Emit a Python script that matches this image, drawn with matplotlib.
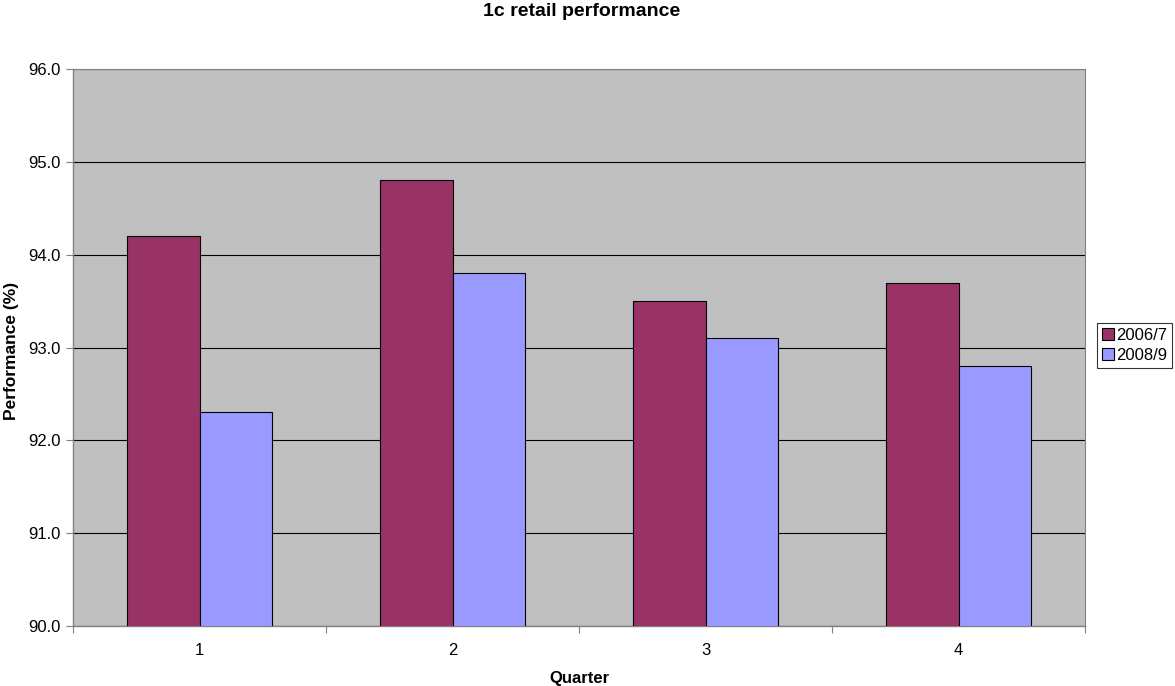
import numpy as np
import matplotlib.pyplot as plt

plt.rcParams['font.family'] = ['Liberation Sans', 'DejaVu Sans']

# Quarterly retail performance (%)
quarters = ['1', '2', '3', '4']
perf_2006_7 = [94.2, 94.8, 93.5, 93.7]
perf_2008_9 = [92.3, 93.8, 93.1, 92.8]
series_names = ['2006/7', '2008/9']

fig = plt.figure(figsize=(11.75, 6.86), dpi=100)
ax = fig.add_axes([73 / 1175, 1 - 626 / 686, (1085 - 73) / 1175, (626 - 69) / 686])
ax.set_facecolor('#C0C0C0')

x = np.arange(len(quarters))
w = 1 / 3.5
b1 = ax.bar(x - w / 2, perf_2006_7, w, color='#993366', edgecolor='black', linewidth=0.8,
            label=series_names[0], zorder=3)
b2 = ax.bar(x + w / 2, perf_2008_9, w, color='#9999FF', edgecolor='black', linewidth=0.8,
            label=series_names[1], zorder=3)

ax.set_ylim(90, 96)
ax.set_xlim(-0.5, len(quarters) - 0.5)
yt = np.arange(90, 96.1, 1)
ax.set_yticks(yt)
ax.set_yticklabels([f'{v:.1f}' for v in yt], fontsize=12)
ax.yaxis.grid(True, color='black', linewidth=0.8, zorder=1)
ax.set_axisbelow(True)

# tick marks at the category boundaries, labels at centres
ax.set_xticks(np.arange(-0.5, len(quarters)), labels=[''] * (len(quarters) + 1))
ax.set_xticks(x, labels=quarters, minor=True)
ax.tick_params(axis='x', which='minor', length=0, pad=12, labelsize=12)
ax.tick_params(axis='x', which='major', length=5, direction='out', color='#808080')
ax.tick_params(axis='y', length=5, direction='out', color='#808080', pad=4)

for side in ['top', 'right']:
    ax.spines[side].set_color('#808080')
    ax.spines[side].set_linewidth(0.8)
for side in ['left', 'bottom']:
    ax.spines[side].set_color('#808080')
    ax.spines[side].set_linewidth(1.0)

fig.text(582 / 1175, 1 - 11 / 686, '1c retail performance', ha='center', va='center',
         fontsize=14, fontweight='bold')
fig.text(12 / 1175, 1 - 351 / 686, 'Performance (%)', ha='center', va='center',
         rotation=90, fontsize=12.5, fontweight='bold')
fig.text(579 / 1175, 1 - 678 / 686, 'Quarter', ha='center', va='center',
         fontsize=12, fontweight='bold')

leg = fig.legend(handles=[b1, b2], loc='center left',
                 bbox_to_anchor=(1097 / 1175, 1 - 345 / 686), frameon=True, fancybox=False,
                 fontsize=12, handlelength=0.7, handleheight=0.7, handletextpad=0.15,
                 borderpad=0.3, labelspacing=0.3, borderaxespad=0)
leg.get_frame().set_edgecolor('black')
leg.get_frame().set_linewidth(0.8)

fig.savefig('out.png', dpi=100)
